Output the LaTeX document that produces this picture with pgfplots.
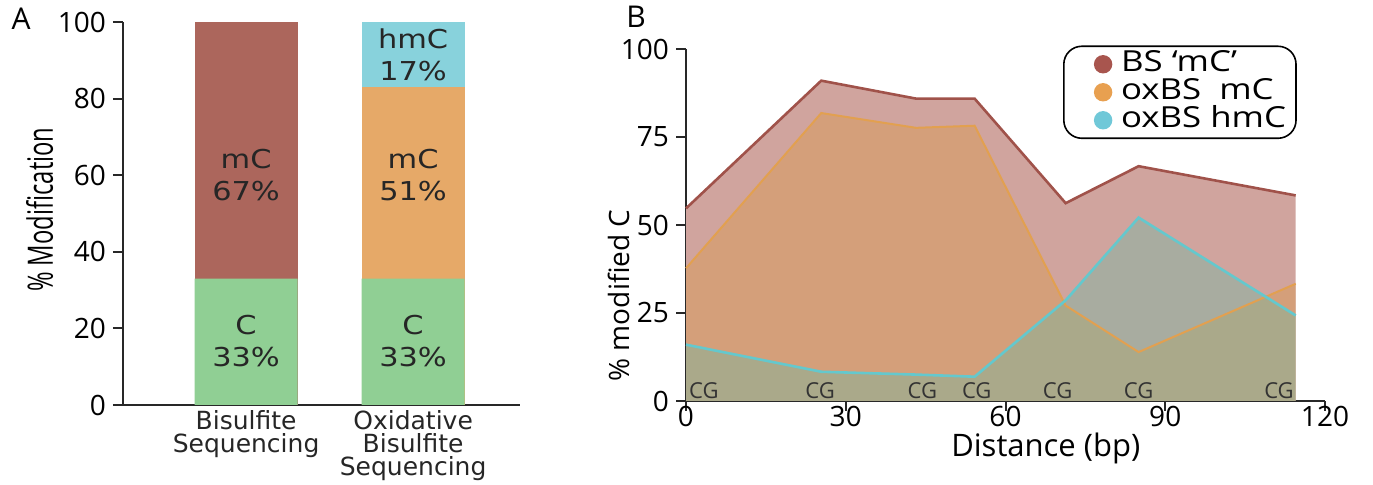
\documentclass[border=0pt]{standalone}
\usepackage{pgfplots}
\pgfplotsset{compat=1.18}
\usepackage{fontspec}
\setmainfont{Open Sans}
\newfontfamily\dejavu{DejaVu Sans}
\newfontfamily\dejavuwide[FakeStretch=1.17]{DejaVu Sans}
\newfontfamily\legfont[FakeStretch=1.2]{Open Sans}
\definecolor{brick}{RGB}{172,102,92}
\definecolor{barorange}{RGB}{230,169,104}
\definecolor{barcyan}{RGB}{136,210,220}
\definecolor{bargreen}{RGB}{144,207,148}
\definecolor{bsfill}{RGB}{208,164,158}
\definecolor{bsline}{RGB}{160,82,74}
\definecolor{oxfill}{RGB}{214,158,107}
\definecolor{oxline}{RGB}{226,160,80}
\definecolor{hmfill}{RGB}{108,184,163}
\definecolor{hmline}{RGB}{100,200,205}
\definecolor{legred}{RGB}{168,85,78}
\definecolor{legorange}{RGB}{232,160,80}
\definecolor{legcyan}{RGB}{112,200,216}
\definecolor{axcol}{RGB}{40,40,40}
\begin{document}
\begin{tikzpicture}
\path[use as bounding box] (0,0) rectangle (686.5pt,242.5pt);
% Panel A
\begin{axis}[
  at={(61.5pt,40pt)}, anchor=south west,
  scale only axis, width=198.5pt, height=191.5pt,
  xmin=0.263, xmax=2.64, ymin=0, ymax=100,
  axis lines=left, axis line style={-, line width=1pt, color=axcol},
  ytick={0,20,...,100}, tick align=outside, major tick length=5pt,
  tick style={line width=1pt, color=axcol},
  xtick={1,2}, xticklabels={Bisulfite\\Sequencing, Oxidative\\Bisulfite\\Sequencing},
  x tick style={draw=none},
  xticklabel style={align=center, font=\dejavu\fontsize{12.5}{11.5}\selectfont, text=black!85, yshift=6pt},
  yticklabel style={font=\fontsize{14}{14}\selectfont},
  /pgf/number format/assume math mode=true,
  ylabel={\scalebox{0.68}[1]{\fontsize{17.5}{18}\selectfont \% Modification}},
  ylabel style={at={(axis description cs:-0.21,0.51)}, anchor=center},
  ybar, bar width=51.5pt, bar shift=0pt,
  clip=false,
]
\addplot[fill=brick, draw=none] coordinates {(1,100)};
\addplot[fill=barcyan, draw=none] coordinates {(2,100)};
\addplot[fill=barorange, draw=none] coordinates {(2,83)};
\addplot[fill=bargreen, draw=none] coordinates {(1,33) (2,33)};
\node[align=center, font=\dejavuwide\fontsize{13}{16}\selectfont, text=black!85] at (axis cs:1,60) {mC\\67\%};
\node[align=center, font=\dejavuwide\fontsize{13}{16}\selectfont, text=black!85] at (axis cs:2,60) {mC\\51\%};
\node[align=center, font=\dejavuwide\fontsize{13}{16}\selectfont, text=black!85] at (axis cs:1,16.7) {C\\33\%};
\node[align=center, font=\dejavuwide\fontsize{13}{16}\selectfont, text=black!85] at (axis cs:2,16.7) {C\\33\%};
\node[align=center, font=\dejavuwide\fontsize{13}{16}\selectfont, text=black!85] at (axis cs:2,91.4) {hmC\\17\%};
\end{axis}
\node[font=\fontsize{15}{15}\selectfont] at (10.5pt,233pt) {A};
\node[font=\fontsize{15}{15}\selectfont] at (318pt,234pt) {B};
% Panel B
\begin{axis}[
  at={(343pt,42pt)}, anchor=south west,
  scale only axis, width=319.5pt, height=176pt,
  xmin=0, xmax=120, ymin=0, ymax=100,
  axis lines=left, axis line style={-, line width=1pt, color=axcol},
  xtick={0,30,...,120}, ytick={0,25,...,100},
  tick align=outside, major tick length=5pt,
  tick style={line width=1pt, color=axcol},
  ticklabel style={font=\fontsize{14}{14}\selectfont},
  xticklabel style={yshift=6pt},
  /pgf/number format/assume math mode=true,
  xlabel={Distance (bp)},
  xlabel style={font=\fontsize{15.5}{15.5}\selectfont, at={(axis description cs:0.563,0)}, anchor=north, yshift=-12.5pt},
  ylabel={\% modified C},
  ylabel style={font=\fontsize{14}{14}\selectfont, at={(axis description cs:-0.105,0.3)}, anchor=center},
  clip=false,
  legend style={at={(0.59,1.01)}, anchor=north west, draw=black, rounded corners=9pt,
    font=\legfont\fontsize{14.5}{14.5}\selectfont, inner xsep=4pt, inner ysep=2pt, row sep=0pt,
    line width=0.8pt, nodes={inner sep=1pt, text height=9.5pt, text depth=2.5pt}},
  legend cell align=left,
  legend image code/.code={\path[draw=none, fill=none] (0,-4pt) rectangle (0.55cm+8pt,4pt); \fill[#1, draw=none] (0.55cm,0) circle (4.6pt);},
]
\addplot[fill=bsfill, draw=none, forget plot] coordinates {(0,54.7) (25.4,91) (43.2,85.9) (54.2,85.9) (71.3,56.2) (85,66.7) (114.5,58.4)} \closedcycle;
\addplot[fill=oxfill, fill opacity=0.7, draw=none, forget plot] coordinates {(0,37.7) (25.4,81.8) (43.2,77.6) (54.2,78.2) (71.3,27.1) (85,13.9) (114.5,33.3)} \closedcycle;
\addplot[fill=hmfill, fill opacity=0.4, draw=none, forget plot] coordinates {(0,16) (25.4,8.3) (43.2,7.5) (54.2,6.9) (71.3,28.6) (85,52.1) (114.5,24.3)} \closedcycle;
\addplot[color=oxline, line width=1pt, forget plot] coordinates {(0,37.7) (25.4,81.8) (43.2,77.6) (54.2,78.2) (71.3,27.1) (85,13.9) (114.5,33.3)};
\addplot[color=hmline, line width=1.3pt, forget plot] coordinates {(0,16) (25.4,8.3) (43.2,7.5) (54.2,6.9) (71.3,28.6) (85,52.1) (114.5,24.3)};
\addplot[color=bsline, line width=1.3pt, forget plot] coordinates {(0,54.7) (25.4,91) (43.2,85.9) (54.2,85.9) (71.3,56.2) (85,66.7) (114.5,58.4)};
\addlegendimage{legred}
\addlegendentry{BS ‘mC’}
\addlegendimage{legorange}
\addlegendentry{oxBS\ \ mC}
\addlegendimage{legcyan}
\addlegendentry{oxBS hmC}
\foreach \xx/\an in {0.2/south west, 25.2/south, 44.4/south, 54.6/south, 69.8/south, 85/south, 114.5/south east}{
  \edef\tmp{\noexpand\node[anchor=\an, font=\noexpand\fontsize{11}{11}\noexpand\selectfont, text=black!80, inner sep=0.8pt] at (axis cs:\xx,0) {CG};}
  \tmp
}
\end{axis}
\end{tikzpicture}
\end{document}
